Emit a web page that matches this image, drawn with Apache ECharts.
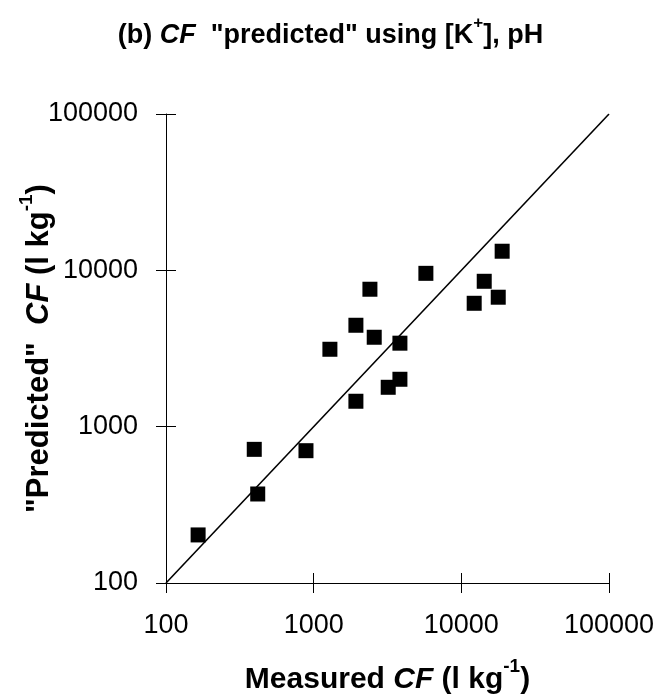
<!DOCTYPE html>
<html><head><meta charset="utf-8">
<script src="https://cdn.jsdelivr.net/npm/echarts@6/dist/echarts.min.js"></script>
<style>html,body{margin:0;padding:0;background:#fff}#c{width:661px;height:700px}</style>
</head><body><div id="c"></div>
<script>
const measured  = [165, 396, 418, 887, 1288, 1932, 2404, 2571, 3838, 3838, 3198, 1932, 5753, 18900, 14290, 17780, 12220];
const predicted = [203, 716, 371, 702, 3127, 4453, 7570, 3732, 3420, 2010, 1786, 1454, 9567, 13250, 8510, 6730, 6155];
const lineX = [100, 100000];
const lineY = [100, 100000];
const axisMin = 100, axisMax = 100000;

const font = '"Liberation Sans", Arial, sans-serif';
const chart = echarts.init(document.getElementById('c'), null, {renderer: 'canvas'});
function richSet(fs, sfs, lh, raise) {
  return {
    b: {fontFamily: font, fontWeight: 'bold', fontSize: fs, color: '#000', lineHeight: lh, verticalAlign: 'bottom'},
    i: {fontFamily: font, fontWeight: 'bold', fontStyle: 'italic', fontSize: fs, color: '#000', lineHeight: lh, verticalAlign: 'bottom'},
    s: {fontFamily: font, fontWeight: 'bold', fontSize: sfs, color: '#000', lineHeight: lh, verticalAlign: 'top', padding: [0,0,raise,0]}
  };
}
const axisLab = {fontFamily: font, fontSize: 27, color: '#000', formatter: v => String(v)};
chart.setOption({
  animation: false,
  backgroundColor: '#fff',
  title: {
    text: '{b|(b) }{i|CF}{b|  "predicted" using [K}{s|+}{b|], pH}',
    left: 'center', top: 10,
    textStyle: {rich: richSet(27, 17, 34, 14)}
  },
  grid: {left: 166, right: 52, top: 114, bottom: 117, containLabel: false, outerBoundsMode: 'none'},
  xAxis: [{
    type: 'log', min: axisMin, max: axisMax, logBase: 10,
    axisLine: {show: true, lineStyle: {color: '#000', width: 1}},
    axisTick: {show: true, length: 10, lineStyle: {color: '#000'}},
    axisLabel: Object.assign({margin: 29}, axisLab),
    splitLine: {show: false}, minorTick: {show: false},
    name: '{b|Measured }{i|CF}{b| (l kg}{s|-1}{b|)}',
    nameLocation: 'middle', nameGap: 74, nameMoveOverlap: false,
    nameTextStyle: {rich: richSet(30, 19, 38, 16)}
  }, {
    type: 'log', min: axisMin, max: axisMax, position: 'bottom', offset: 0,
    axisLine: {show: false}, axisTick: {show: true, inside: true, length: 10, lineStyle: {color: '#000'}},
    axisLabel: {show: false}, splitLine: {show: false}
  }],
  yAxis: [{
    type: 'log', min: axisMin, max: axisMax, logBase: 10,
    axisLine: {show: true, lineStyle: {color: '#000', width: 1}},
    axisTick: {show: true, length: 10, lineStyle: {color: '#000'}},
    axisLabel: Object.assign({margin: 28}, axisLab),
    splitLine: {show: false},
    name: '{b|"Predicted"  }{i|CF}{b| (l kg}{s|-1}{b|)}',
    nameLocation: 'middle', nameGap: 111, nameRotate: 90, nameMoveOverlap: false,
    nameTextStyle: {rich: richSet(31, 19, 38, 16)}
  }, {
    type: 'log', min: axisMin, max: axisMax, position: 'left', offset: 0,
    axisLine: {show: false}, axisTick: {show: true, inside: true, length: 10, lineStyle: {color: '#000'}},
    axisLabel: {show: false}, splitLine: {show: false}
  }],
  series: [{
    type: 'line', xAxisIndex: 0, yAxisIndex: 0,
    data: lineX.map((x, i) => [x, lineY[i]]),
    symbol: 'none', lineStyle: {color: '#000', width: 1.6}, silent: true
  }, {
    type: 'scatter', xAxisIndex: 0, yAxisIndex: 0,
    data: measured.map((x, i) => [x, predicted[i]]),
    symbol: 'rect', symbolSize: 15, itemStyle: {color: '#000', opacity: 1}
  }]
});
</script></body></html>
